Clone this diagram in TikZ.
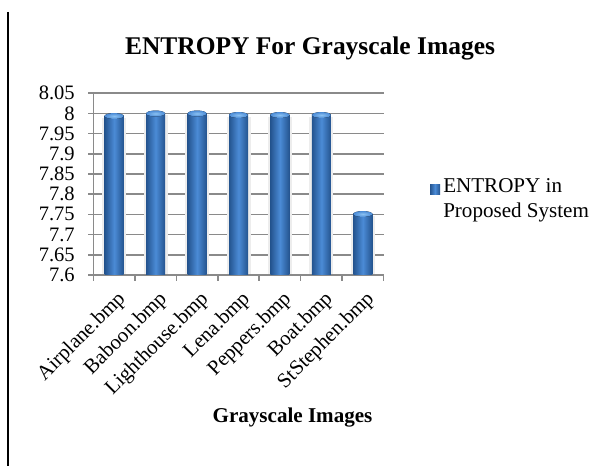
\documentclass[tikz,border=0pt]{standalone}
\usepackage{fontspec}
\setmainfont{Liberation Serif}
\definecolor{bardark}{HTML}{24548F}
\definecolor{barmid}{HTML}{4B8BD6}
\definecolor{bartopc}{HTML}{8CC2F2}
\definecolor{gridgray}{HTML}{8A8A8A}
\tikzset{
  gridline/.style={gridgray, line width=1.1pt},
  barbody/.style={left color=bardark, right color=bardark, middle color=barmid},
  bartop/.style={inner color=bartopc, outer color=barmid},
  barshadow/.style={fill=black!7},
  ylab/.style={anchor=east, inner sep=0pt, font=\fontsize{15.4}{17}\selectfont},
  xlab/.style={anchor=east, rotate=45, inner sep=0pt, font=\fontsize{15.6}{17}\selectfont},
}
\begin{document}
\begin{tikzpicture}[x=0.75pt, y=-0.75pt]
  \useasboundingbox (0,0) rectangle (611,466);
  % left rule
  \draw[line width=1.5pt] (8,12) -- (8,466);
  % title
  \node[anchor=base, inner sep=0pt, font=\fontsize{19.1}{22}\selectfont\bfseries] (title) at (310,55) {ENTROPY For Grayscale Images};
  % gridlines with value labels
  \draw[gridline] (88,93.2) -- (383.5,93.2);
  \draw[gridline] (88,113.4) -- (383.5,113.4);
  \draw[gridline] (88,133.6) -- (383.5,133.6);
  \draw[gridline] (88,153.8) -- (383.5,153.8);
  \draw[gridline] (88,174.0) -- (383.5,174.0);
  \draw[gridline] (88,194.2) -- (383.5,194.2);
  \draw[gridline] (88,214.4) -- (383.5,214.4);
  \draw[gridline] (88,234.6) -- (383.5,234.6);
  \draw[gridline] (88,254.8) -- (383.5,254.8);
  \draw[gridline] (88,275.0) -- (383.5,275.0);
  \node[ylab] (yA) at (75,93.2) {8.05};
  \node[ylab] (yB) at (75,113.4) {8};
  \node[ylab] (yC) at (75,133.6) {7.95};
  \node[ylab] (yD) at (75,153.8) {7.9};
  \node[ylab] (yE) at (75,174.0) {7.85};
  \node[ylab] (yF) at (75,194.2) {7.8};
  \node[ylab] (yG) at (75,214.4) {7.75};
  \node[ylab] (yH) at (75,234.6) {7.7};
  \node[ylab] (yI) at (75,254.8) {7.65};
  \node[ylab] (yJ) at (75,275.0) {7.6};
  % axis and ticks
  \draw[gridline] (93.5,93.2) -- (93.5,281);
  \draw[gridline] (134.9,275) -- (134.9,281);
  \draw[gridline] (176.4,275) -- (176.4,281);
  \draw[gridline] (217.8,275) -- (217.8,281);
  \draw[gridline] (259.2,275) -- (259.2,281);
  \draw[gridline] (300.6,275) -- (300.6,281);
  \draw[gridline] (342.1,275) -- (342.1,281);
  \draw[gridline] (383.5,275) -- (383.5,281);
  % bar shadows
  \fill[barshadow] (102.2,118) rectangle (126.2,274.4);
  \fill[barshadow] (143.6,115.5) rectangle (167.6,274.4);
  \fill[barshadow] (185.1,115.5) rectangle (209.1,274.4);
  \fill[barshadow] (226.5,117) rectangle (250.5,274.4);
  \fill[barshadow] (267.9,117) rectangle (291.9,274.4);
  \fill[barshadow] (309.4,117) rectangle (333.4,274.4);
  \fill[barshadow] (350.8,216) rectangle (374.8,274.4);
  % bars
  \fill[barbody] (104.7,116) rectangle (123.7,274.4);
  \fill[bartop] (114.2,116) ellipse (7.1pt and 2.2pt);
  \fill[barbody] (146.1,113.5) rectangle (165.1,274.4);
  \fill[bartop] (155.6,113.5) ellipse (7.1pt and 2.2pt);
  \fill[barbody] (187.6,113.5) rectangle (206.6,274.4);
  \fill[bartop] (197.1,113.5) ellipse (7.1pt and 2.2pt);
  \fill[barbody] (229.0,115) rectangle (248.0,274.4);
  \fill[bartop] (238.5,115) ellipse (7.1pt and 2.2pt);
  \fill[barbody] (270.4,115) rectangle (289.4,274.4);
  \fill[bartop] (279.9,115) ellipse (7.1pt and 2.2pt);
  \fill[barbody] (311.9,115) rectangle (330.9,274.4);
  \fill[bartop] (321.4,115) ellipse (7.1pt and 2.2pt);
  \fill[barbody] (353.3,214) rectangle (372.3,274.4);
  \fill[bartop] (362.8,214) ellipse (7.1pt and 2.2pt);
  % category labels
  \node[xlab] (cA) at (122.7,296) {Airplane.bmp};
  \node[xlab] (cB) at (164.1,296) {Baboon.bmp};
  \node[xlab] (cC) at (205.6,296) {Lighthouse.bmp};
  \node[xlab] (cD) at (247.0,296) {Lena.bmp};
  \node[xlab] (cE) at (288.4,296) {Peppers.bmp};
  \node[xlab] (cF) at (329.9,296) {Boat.bmp};
  \node[xlab] (cG) at (371.3,296) {StStephen.bmp};
  % axis title
  \node[anchor=base, inner sep=0pt, font=\fontsize{15.8}{18}\selectfont\bfseries] (xtitle) at (292.5,423) {Grayscale Images};
  % legend
  \fill[barbody] (430,185) rectangle (440,195);
  \node[anchor=base west, inner sep=0pt, font=\fontsize{15.8}{18}\selectfont] (legA) at (443,193) {ENTROPY in};
  \node[anchor=base west, inner sep=0pt, font=\fontsize{15.8}{18}\selectfont] (legB) at (443,217.3) {Proposed System};
\end{tikzpicture}
\end{document}
